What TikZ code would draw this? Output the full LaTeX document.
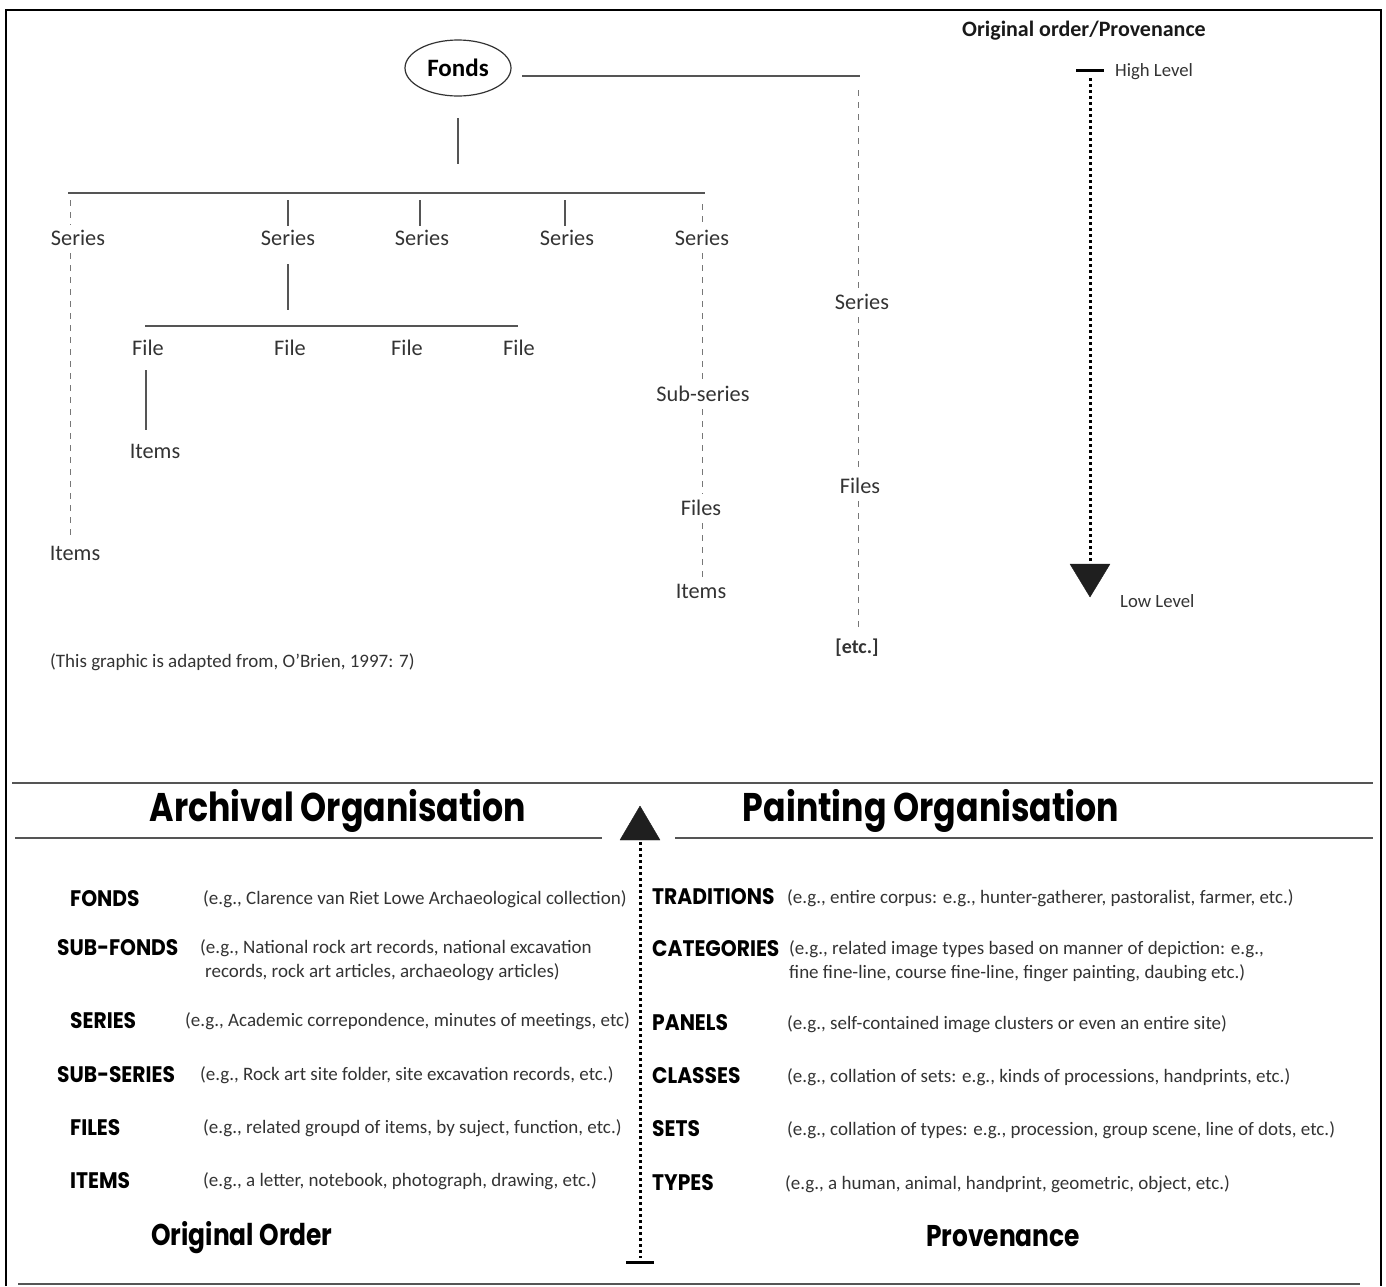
\documentclass[tikz,border=0pt]{standalone}
\usepackage{fontspec}
\usepackage{graphicx}
\setmainfont{Carlito}
\newfontfamily\headfont{Poppins}
\newcommand{\narrow}[2]{\scalebox{#1}[1]{#2}}
\usetikzlibrary{shapes.geometric}
\definecolor{ink}{HTML}{333333}
\definecolor{rule}{HTML}{555555}
\tikzset{
  lbl/.style={text=ink, font=\fontsize{22.3}{26}\selectfont, inner sep=0pt},
  small/.style={text=ink, font=\fontsize{18.7}{22}\selectfont, inner sep=0pt, anchor=west},
  desc/.style={text=ink, font=\fontsize{19}{23.5}\selectfont, inner sep=0pt, anchor=west, align=left},
  levelname/.style={text=black, font=\headfont\bfseries\fontsize{22.5}{26}\selectfont, inner sep=0pt, anchor=west},
  heading/.style={text=black, font=\headfont\bfseries\fontsize{40}{46}\selectfont, inner sep=0pt},
  subheading/.style={text=black, font=\headfont\bfseries\fontsize{30}{34}\selectfont, inner sep=0pt},
  solidline/.style={draw=rule, line width=1.3pt},
  dashline/.style={draw=rule!80, line width=1pt, dash pattern=on 6pt off 6pt},
  dotline/.style={draw=black, line width=3pt, dash pattern=on 3pt off 3pt},
  barline/.style={draw=rule, line width=2.4pt},
  tipfill/.style={fill=black!88, draw=black!88, line join=round},
}
\newcommand{\lv}[1]{\narrow{0.9}{#1}}
\newcommand{\hd}[1]{\narrow{0.83}{#1}}
\begin{document}
\begin{tikzpicture}[x=1pt,y=-1pt]
\useasboundingbox (0,0) rectangle (1386,1286);

% outer frame, open at the bottom
\draw[line width=2.2pt] (6,1286) -- (6,10) -- (1381,10) -- (1381,1286);

% ---------- hierarchy tree ----------
\node[ellipse, draw=black!80, line width=1.2pt, minimum width=106pt, minimum height=56pt,
      inner sep=0pt, font=\bfseries\fontsize{25}{28}\selectfont] (fonds) at (458,68) {Fonds};

\coordinate (fr) at (522,76);
\coordinate (cr) at (860,76);
\draw[solidline] (fr) -- (cr);
\draw[solidline] (fonds |- 0,118) -- (fonds |- 0,164);
\draw[solidline] (68,193) coordinate (barL) -- (705,193) coordinate (barR);

\node[lbl] (s1) at (78,238) {Series};
\node[lbl] (s2) at (288,238) {Series};
\node[lbl] (s3) at (422,238) {Series};
\node[lbl] (s4) at (567,238) {Series};
\node[lbl] (s5) at (702,238) {Series};

\draw[dashline] (70,200) -- (70,225);
\draw[solidline] (288,200) -- (288,226);
\draw[solidline] (420,200) -- (420,226);
\draw[solidline] (565,200) -- (565,226);
\draw[dashline] (702,204) -- (702,226);

% left branch: series straight to items
\node[lbl] (i1) at (75,553) {Items};
\draw[dashline] (70,253) -- (70,540);

% second series split into files
\draw[solidline] (288,264) -- (288,310);
\draw[solidline] (145,326) -- (518,326);
\node[lbl] (f1) at (148,348) {File};
\node[lbl] (f2) at (290,348) {File};
\node[lbl] (f3) at (407,348) {File};
\node[lbl] (f4) at (519,348) {File};
\node[lbl] (i2) at (155,451) {Items};
\draw[solidline] (146,370) -- (146,430);

% fifth series: sub-series, files, items
\node[lbl] (ss5) at (703,394) {Sub-series};
\node[lbl] (fl5) at (701,508) {Files};
\node[lbl] (it5) at (701,591) {Items};
\draw[dashline] (702,253) -- (702,380);
\draw[dashline] (702,409) -- (702,494);
\draw[dashline] (702,523) -- (702,578);

% right-hand chain from the fonds
\node[lbl] (s6) at (862,302) {Series};
\node[lbl] (fl6) at (860,486) {Files};
\node[text=ink, inner sep=0pt, font=\bfseries\fontsize{20}{24}\selectfont] (etc) at (857,648) {[etc.]};
\draw[dashline] (858,90) -- (858,288);
\draw[dashline] (858,317) -- (858,472);
\draw[dashline] (858,501) -- (858,632);

\node[text=ink, inner sep=0pt, anchor=west, font=\fontsize{19}{23}\selectfont] (src) at (50,662)
  {(This graphic is adapted from, O’Brien, 1997: 7)};

% ---------- level scale ----------
\node[inner sep=0pt, font=\bfseries\fontsize{22}{26}\selectfont, text=black!90] (oop) at (1084,31) {Original order/Provenance};
\coordinate (hi) at (1090,70);
\coordinate (lo) at (1090,597);
\draw[line width=3pt] (1076,70) -- (1104,70);
\draw[dotline] (1090,78) -- (1090,566);
\fill[tipfill] (1070,564) -- (1110,564) -- (lo) -- cycle;
\node[small] (hl) at (1115,72) {High Level};
\node[small] (ll) at (1120,601) {Low Level};

% ---------- comparison table ----------
\draw[barline] (12,783) -- (1373,783);
\draw[barline] (15,838) -- (602,838);
\draw[barline] (675,838) -- (1373,838);
\draw[barline] (18,1284) -- (1360,1284);

\node[heading] (hA) at (338,811) {\hd{Archival Organisation}};
\node[heading] (hP) at (931,811) {\hd{Painting Organisation}};

% central upward arrow
\coordinate (up) at (640,806);
\draw[dotline] (640,842) -- (640,1258);
\fill[tipfill] (620,840) -- (660,840) -- (up) -- cycle;
\draw[line width=3pt] (626,1262) -- (654,1262);

% archival levels
\node[levelname] (a1) at (70,899) {\lv{FONDS}};
\node[desc] (d1) at (203,899) {(e.g., Clarence van Riet Lowe Archaeological collection)};
\node[levelname] (a2) at (57,948) {\lv{SUB-FONDS}};
\node[desc] (d2) at (200,960) {(e.g., National rock art records, national excavation\\\hspace*{5pt}records, rock art articles, archaeology articles)};
\node[levelname] (a3) at (70,1021) {\lv{SERIES}};
\node[desc] (d3) at (185,1021) {(e.g., Academic correpondence, minutes of meetings, etc)};
\node[levelname] (a4) at (57,1075) {\lv{SUB-SERIES}};
\node[desc] (d4) at (200,1075) {(e.g., Rock art site folder, site excavation records, etc.)};
\node[levelname] (a5) at (70,1128) {\lv{FILES}};
\node[desc] (d5) at (203,1128) {(e.g., related groupd of items, by suject, function, etc.)};
\node[levelname] (a6) at (70,1181) {\lv{ITEMS}};
\node[desc] (d6) at (203,1181) {(e.g., a letter, notebook, photograph, drawing, etc.)};

% painting levels
\node[levelname] (p1) at (652,897) {\lv{TRADITIONS}};
\node[desc] (e1) at (787,898) {(e.g., entire corpus: e.g., hunter-gatherer, pastoralist, farmer, etc.)};
\node[levelname] (p2) at (652,949) {\lv{CATEGORIES}};
\node[desc] (e2) at (789,961) {(e.g., related image types based on manner of depiction: e.g.,\\fine fine-line, course fine-line, finger painting, daubing etc.)};
\node[levelname] (p3) at (652,1023) {\lv{PANELS}};
\node[desc] (e3) at (787,1024) {(e.g., self-contained image clusters or even an entire site)};
\node[levelname] (p4) at (652,1076) {\lv{CLASSES}};
\node[desc] (e4) at (787,1077) {(e.g., collation of sets: e.g., kinds of processions, handprints, etc.)};
\node[levelname] (p5) at (652,1129) {\lv{SETS}};
\node[desc] (e5) at (787,1130) {(e.g., collation of types: e.g., procession, group scene, line of dots, etc.)};
\node[levelname] (p6) at (652,1183) {\lv{TYPES}};
\node[desc] (e6) at (785,1184) {(e.g., a human, animal, handprint, geometric, object, etc.)};

\node[subheading] (oo) at (242,1238) {\hd{Original Order}};
\node[subheading] (pv) at (1003,1236) {\hd{Provenance}};
\end{tikzpicture}
\end{document}
